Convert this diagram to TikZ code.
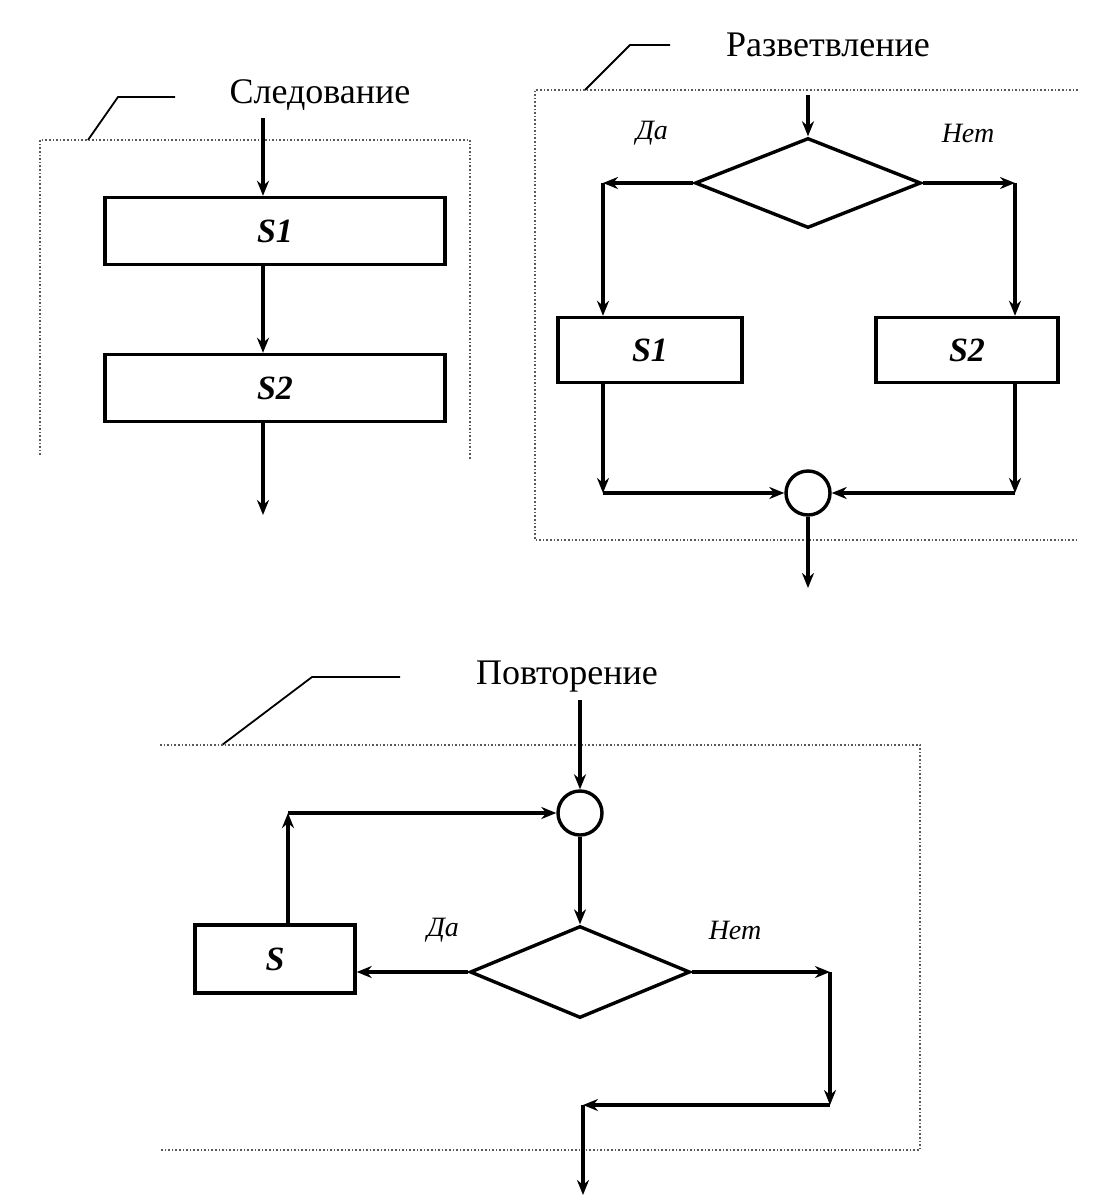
\documentclass[tikz,border=0pt]{standalone}
\usepackage{fontspec}
\setmainfont{Liberation Serif}
\usetikzlibrary{arrows.meta,shapes.geometric}
\begin{document}
\begin{tikzpicture}[x=1pt,y=-1pt,line width=3.4pt,
  ar/.style={-{Stealth[length=15pt,width=12pt]}},
  box/.style={draw,rectangle,inner sep=0pt,font=\fontsize{34}{38}\selectfont\bfseries\itshape},
  dia/.style={draw,diamond,inner sep=0pt},
  circ/.style={draw,circle,minimum size=44pt,inner sep=0pt},
  ttl/.style={font=\fontsize{36}{40}\selectfont},
  lbl/.style={font=\fontsize{28}{32}\selectfont\itshape},
  frame/.style={line width=1.6pt,dotted,gray!70!black},
  lead/.style={line width=1.8pt}]
\useasboundingbox (0,0) rectangle (1109,1200);
% ---- Sequence
\node[ttl] (t1) at (320,95) {Следование};
\draw[lead] (88,140) -- (118,97) -- (175,97);
\draw[frame] (40,455) -- (40,140) -- (470,140) -- (470,460);
\node[box,minimum width=340pt,minimum height=67pt] (a1) at (275,231) {S1};
\node[box,minimum width=340pt,minimum height=67pt] (a2) at (275,388) {S2};
\coordinate (ain) at (263,118);
\coordinate (aout) at (263,515);
\draw[ar] (ain) -- (ain |- a1.north);
\draw[ar] (ain |- a1.south) -- (ain |- a2.north);
\draw[ar] (ain |- a2.south) -- (aout);
% ---- Branch
\node[ttl] (t2) at (828,45) {Разветвление};
\draw[lead] (585,90) -- (630,45) -- (670,45);
\draw[frame] (1078,90) -- (535,90) -- (535,540) -- (1078,540);
\node[dia,minimum width=226pt,minimum height=90pt] (d1) at (808,183) {};
\node[lbl] at (652,133) {Да};
\node[lbl] at (968,133) {Нет};
\node[box,minimum width=184pt,minimum height=65pt] (b1) at (650,350) {S1};
\node[box,minimum width=182pt,minimum height=65pt] (b2) at (967,350) {S2};
\node[circ] (c1) at (808,493) {};
\coordinate (bin) at (808,95);
\coordinate (bl) at (603,183);
\coordinate (br) at (1015,183);
\coordinate (bl2) at (603,493);
\coordinate (br2) at (1015,493);
\coordinate (bout) at (808,588);
\draw[ar] (bin) -- (d1.north);
\draw[ar] (d1.west) -- (bl);
\draw[ar] (bl) -- (bl |- b1.north);
\draw[ar] (d1.east) -- (br);
\draw[ar] (br) -- (br |- b2.north);
\draw[ar] (bl |- b1.south) -- (bl2);
\draw[ar] (bl2) -- (c1.west);
\draw[ar] (br |- b2.south) -- (br2);
\draw[ar] (br2) -- (c1.east);
\draw[ar] (c1.south) -- (bout);
% ---- Repeat
\node[ttl] (t3) at (567,677) {Повторение};
\draw[lead] (222,745) -- (312,677) -- (400,677);
\draw[frame] (160,745) -- (920,745) -- (920,1150) -- (160,1150);
\node[circ] (c2) at (580,813) {};
\node[dia,minimum width=220pt,minimum height=92pt] (d2) at (580,972) {};
\node[lbl] at (443,930) {Да};
\node[lbl] at (735,930) {Нет};
\node[box,minimum width=160pt,minimum height=68pt] (s) at (275,959) {S};
\coordinate (cin) at (580,700);
\coordinate (sc) at (288,813);
\coordinate (r1) at (830,972);
\coordinate (r2) at (830,1105);
\coordinate (r3) at (583,1105);
\coordinate (rout) at (583,1195);
\draw[ar] (cin) -- (c2.north);
\draw[ar] (c2.south) -- (d2.north);
\draw[ar] (d2.west) -- (s.east |- d2.west);
\draw[ar] (sc |- s.north) -- (sc);
\draw[ar] (sc) -- (c2.west);
\draw[ar] (d2.east) -- (r1);
\draw[ar] (r1) -- (r2);
\draw[ar] (r2) -- (r3);
\draw[ar] (r3) -- (rout);
\end{tikzpicture}
\end{document}
